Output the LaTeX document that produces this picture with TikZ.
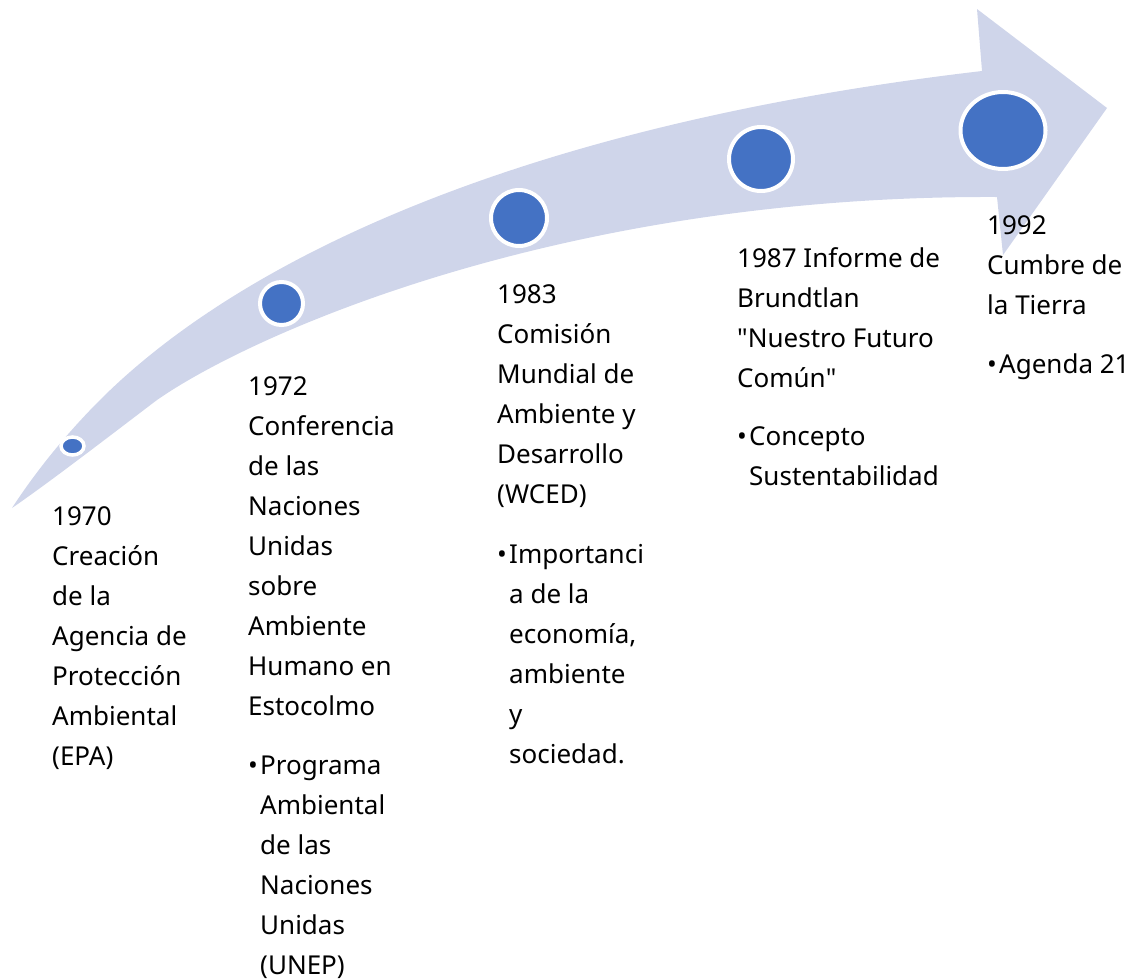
\documentclass[tikz,border=0pt]{standalone}
\usepackage{fontspec}
\setmainfont{Noto Sans}
\newfontfamily\qfont{Noto Sans}
\usetikzlibrary{shapes.geometric}
\definecolor{band}{HTML}{CFD5EA}
\definecolor{dotblue}{HTML}{4472C4}
\tikzset{
  dot/.style={circle, fill=dotblue, draw=white, line width=4pt, inner sep=0pt},
  edot/.style={ellipse, fill=dotblue, draw=white, line width=4pt, inner sep=0pt},
  txt/.style={anchor=base west, inner sep=0pt, font=\fontsize{26}{40}\selectfont}
}
\newcommand{\bul}{\makebox[12pt][l]{•}}
\newcommand{\ind}{\hspace*{12pt}}
\newcommand{\dq}{{\qfont"}}
\begin{document}
\begin{tikzpicture}[x=1pt,y=-1pt]
\useasboundingbox (0,0) rectangle (1132,978);
% curved arrow band
\fill[band] (12,508) .. controls (40,465) and (72,428) .. (100,400)
  .. controls (240,260) and (520,125) .. (982,71)
  -- (977,9) -- (1107,108) -- (1003,255) -- (997,197)
  .. controls (560,195) and (250,335) .. (157,400)
  .. controls (120,428) and (50,482) .. (12,508) -- cycle;
% milestones
\node[edot, line width=3.5pt, minimum width=23pt, minimum height=18pt] (c1) at (72.5,446) {};
\node[dot, minimum size=43pt] (c2) at (281.5,303.5) {};
\node[dot, minimum size=56pt] (c3) at (519,218) {};
\node[dot, minimum size=64pt] (c4) at (761,159) {};
\node[edot, minimum width=85pt, minimum height=77pt] (c5) at (1003,130.5) {};
% texts
\node[txt] (t1) at (52,525) {\parbox[t]{250pt}{\raggedright 1970\\Creación\\de la\\Agencia de\\Protección\\Ambiental\\(EPA)}};
\node[txt] (t2) at (248,395) {\parbox[t]{250pt}{\raggedright 1972\\Conferencia\\de las\\Naciones\\Unidas\\sobre\\Ambiente\\Humano en\\Estocolmo\\[19pt]\bul Programa\\\ind Ambiental\\\ind de las\\\ind Naciones\\\ind Unidas\\\ind (UNEP)}};
\node[txt] (t3) at (497,303) {\parbox[t]{250pt}{\raggedright 1983\\Comisión\\Mundial de\\Ambiente y\\Desarrollo\\(WCED)\\[20pt]\bul Importanci\\\ind a de la\\\ind economía,\\\ind ambiente\\\ind y\\\ind sociedad.}};
\node[txt] (t4) at (737,267) {\parbox[t]{250pt}{\raggedright 1987 Informe de\\Brundtlan\\\dq Nuestro Futuro\\Común\dq\\[18pt]\bul Concepto\\\ind Sustentabilidad}};
\node[txt] (t5) at (987,234) {\parbox[t]{250pt}{\raggedright 1992\\Cumbre de\\la Tierra\\[19pt]\bul Agenda 21}};
\end{tikzpicture}
\end{document}
